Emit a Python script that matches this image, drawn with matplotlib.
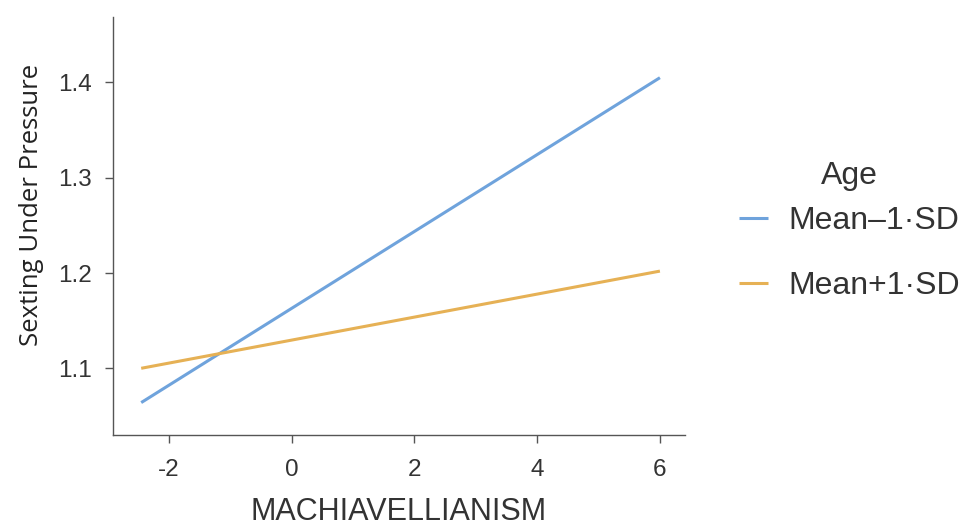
import matplotlib
matplotlib.use("Agg")
import matplotlib.pyplot as plt

# Data
x_vals = [-2.45, 6.0]
series_names = ["Mean\u20131\u00b7SD", "Mean+1\u00b7SD"]
low_age = [1.064, 1.405]
high_age = [1.100, 1.202]
x_ticks = [-2, 0, 2, 4, 6]
y_ticks = [1.1, 1.2, 1.3, 1.4]
legend_title = "Age"

colors = ["#6fa3dc", "#e6b155"]

fig = plt.figure(figsize=(9.73, 5.27), dpi=100)
ax = fig.add_axes([0.1161, 0.1746, 0.588, 0.7937])

ax.plot(x_vals, low_age, color=colors[0], lw=2.2, label=series_names[0], solid_capstyle="butt")
ax.plot(x_vals, high_age, color=colors[1], lw=2.2, label=series_names[1], solid_capstyle="butt")

ax.set_xlim(-2.91, 6.41)
ax.set_ylim(1.030, 1.469)
ax.set_xticks(x_ticks)
ax.set_yticks(y_ticks)
ax.set_xticklabels([str(t) for t in x_ticks], family="Liberation Sans", fontsize=17.5, color="#333333")
ax.set_yticklabels([f"{t:.1f}" for t in y_ticks], family="Liberation Sans", fontsize=17.5, color="#333333")

for s in ["top", "right"]:
    ax.spines[s].set_visible(False)
for s in ["left", "bottom"]:
    ax.spines[s].set_color("#555555")
    ax.spines[s].set_linewidth(1.0)
ax.tick_params(axis="both", color="#555555", length=6, width=1.0)
ax.tick_params(axis="x", pad=11)
ax.tick_params(axis="y", pad=9)

ax.set_xlabel("MACHIAVELLIANISM", family="Liberation Sans", fontsize=22, color="#333333")
ax.xaxis.set_label_coords(0.5, -0.184)
ax.xaxis.label.set_verticalalignment("center")
ax.set_ylabel("Sexting Under Pressure", family="Open Sans", fontsize=18.5, color="#222222")
ax.yaxis.set_label_coords(-0.142, 0.55)
ax.yaxis.label.set_verticalalignment("center")

leg = ax.legend(loc="center left", bbox_to_anchor=(1.066, 0.434), frameon=False,
                prop={"family": "Liberation Sans", "size": 23},
                handlelength=0.9, handletextpad=0.65, labelspacing=1.1, borderpad=0)
for t in leg.get_texts():
    t.set_color("#333333")

ax.text(1.288, 0.618, legend_title, transform=ax.transAxes, ha="center", va="center",
        family="Liberation Sans", fontsize=23, color="#333333")

fig.savefig("out.png", dpi=100, facecolor="white")
